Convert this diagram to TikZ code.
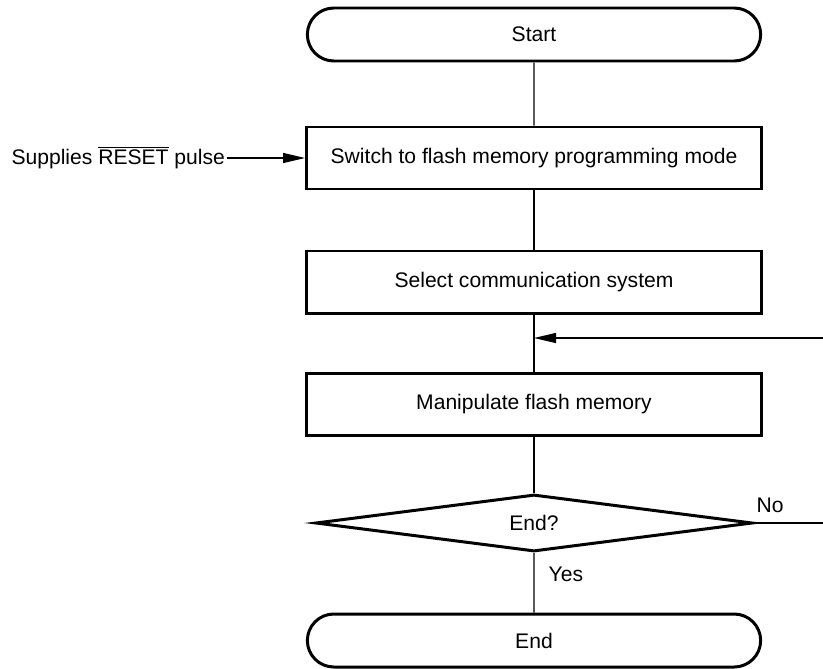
\documentclass[tikz,border=0pt]{standalone}
\usepackage{fontspec}
\setmainfont{Liberation Sans}
\usepackage{tikz}
\usetikzlibrary{shapes.geometric, shapes.misc, arrows.meta, positioning}
\tikzstyle{terminal} = [rounded rectangle, 
minimum width=9.3cm, 
minimum height=1.06cm, text centered, 
draw=black, line width=1.7pt]
\tikzstyle{process} = [rectangle, 
minimum width=9.1cm, 
minimum height=1.24cm, text centered, 
draw=black, line width=1.7pt]
\tikzstyle{decision} = [diamond, aspect=8, inner sep=0pt,
minimum width=8.74cm, 
minimum height=1.14cm, text centered, 
draw=black, line width=1.7pt]
\tikzstyle{line} = [line width=0.7pt, draw=black]
\tikzstyle{arrow} = [line width=0.7pt, -{Triangle[length=0.44cm, width=0.2cm]}, draw=black]

\begin{document}
\begin{tikzpicture}[font=\fontsize{12}{14}\selectfont]
        \useasboundingbox (0,0) rectangle (16.46,-13.36);

        % Bloques del diagrama
        \node (start) [terminal] at (10.68,-0.69) {Start};
        \node (switch) [process] at (10.68,-3.16) {Switch to flash memory programming mode};
        \node (select) [process] at (10.68,-5.64) {Select communication system};
        \node (manip) [process] at (10.68,-8.08) {Manipulate flash memory};
        \node (dec) [decision] at (10.68,-10.46) {End?};
        \node (stop) [terminal] at (10.68,-12.81) {End};

        % Pulso de reset hacia el primer bloque
        \node (pulse) [anchor=east, inner sep=1pt] at (4.54,-3.16) {Supplies $\overline{\hbox{RESET}}$ pulse};
        \draw [arrow] (pulse.east) -- (switch.west);

        % Flujo principal
        \draw [line] (start) -- (switch);
        \draw [line] (switch) -- (select);
        \draw [line] (select) -- (manip);
        \draw [line] (manip) -- (dec);
        \draw [line] (dec) -- (stop);
        \node (yes) [anchor=west] at (10.85,-11.48) {Yes};

        % Retorno (No) por la derecha
        \coordinate (noout) at (16.46,-10.46);
        \coordinate (noin) at (16.46,-6.76);
        \coordinate (merge) at (10.68,-6.76);
        \draw [line] (dec.east) -- (noout);
        \node (no) at (15.4,-10.1) {No};
        \draw [arrow] (noin) -- (merge);

    \end{tikzpicture}
\end{document}
